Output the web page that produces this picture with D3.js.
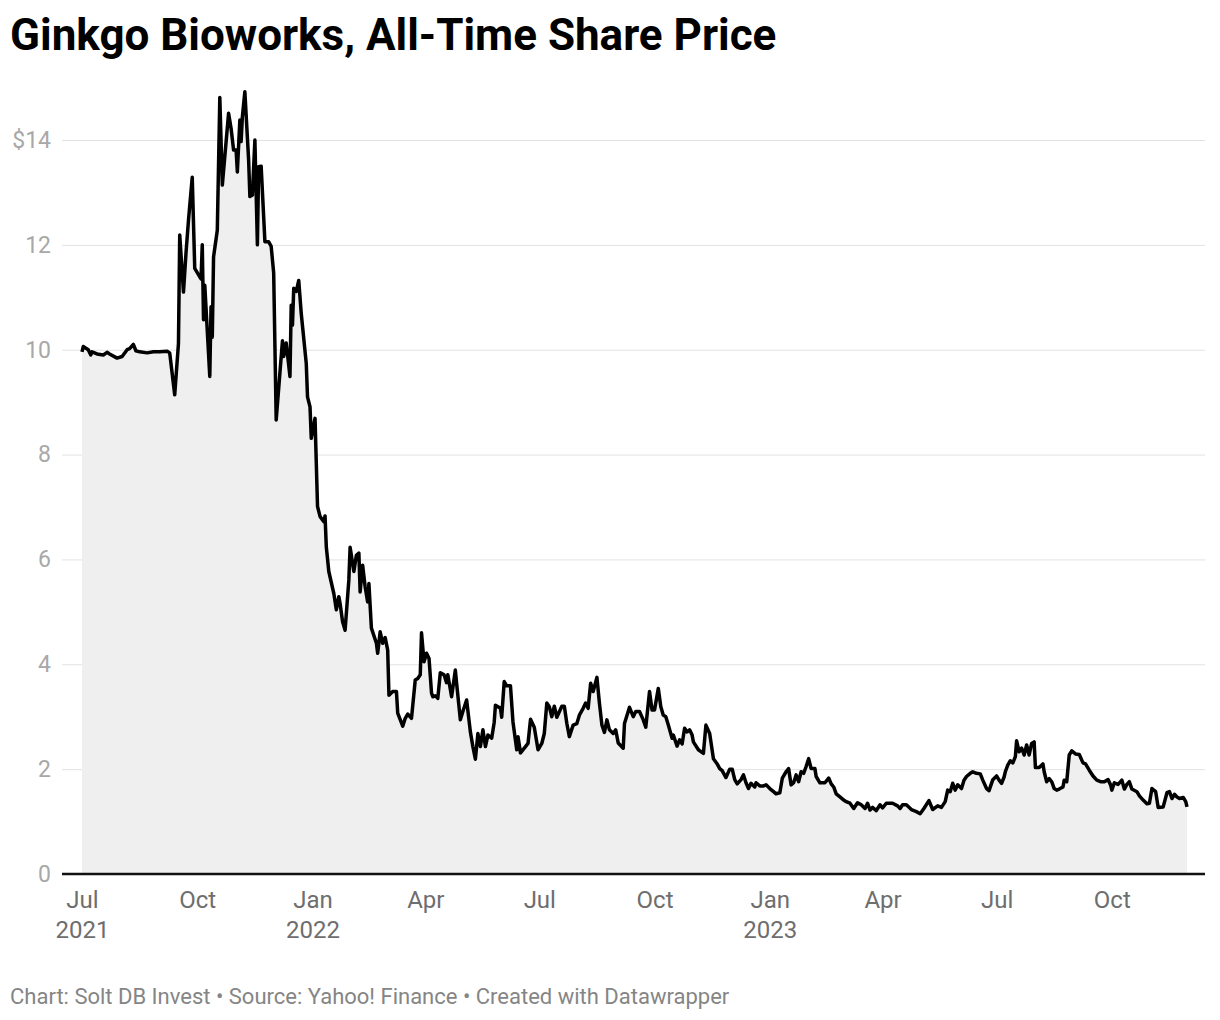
<!DOCTYPE html>
<html><head><meta charset="utf-8">
<script src="https://cdn.jsdelivr.net/npm/d3@7"></script>
<style>
body{margin:0;background:#fff;}
svg{display:block;font-family:Roboto,"Noto Sans",sans-serif;}
</style></head><body>
<svg id="c" width="1220" height="1020"></svg>
<script>
const titleText = "Ginkgo Bioworks, All-Time Share Price";
const footerText = "Chart: Solt DB Invest \u2022 Source: Yahoo! Finance \u2022 Created with Datawrapper";
const yTicks = [0, 2, 4, 6, 8, 10, 12, 14];
const xTickDates = ["2021-07-01","2021-10-01","2022-01-01","2022-04-01","2022-07-01","2022-10-01","2023-01-01","2023-04-01","2023-07-01","2023-10-01"];
const xTickLabels = [["Jul","2021"],["Oct"],["Jan","2022"],["Apr"],["Jul"],["Oct"],["Jan","2023"],["Apr"],["Jul"],["Oct"]];

const dates = [
"2021-07-01","2021-07-02","2021-07-06","2021-07-08","2021-07-09","2021-07-13","2021-07-18","2021-07-21","2021-07-23","2021-07-29",
"2021-08-02","2021-08-06","2021-08-08","2021-08-11","2021-08-13","2021-08-16","2021-08-22","2021-08-27","2021-09-01","2021-09-07",
"2021-09-09","2021-09-13","2021-09-16","2021-09-17","2021-09-20","2021-09-22","2021-09-24","2021-09-27","2021-09-29","2021-10-03",
"2021-10-04","2021-10-05","2021-10-06","2021-10-07","2021-10-11","2021-10-12","2021-10-13","2021-10-14","2021-10-17","2021-10-19",
"2021-10-21","2021-10-26","2021-10-28","2021-10-30","2021-11-01","2021-11-02","2021-11-04","2021-11-05","2021-11-06","2021-11-08",
"2021-11-11","2021-11-12","2021-11-14","2021-11-16","2021-11-18","2021-11-19","2021-11-21","2021-11-24","2021-11-27","2021-11-29",
"2021-12-01","2021-12-03","2021-12-08","2021-12-09","2021-12-11","2021-12-14","2021-12-15","2021-12-16","2021-12-17","2021-12-19",
"2021-12-21","2021-12-23","2021-12-27","2021-12-28","2021-12-30","2021-12-31","2022-01-03","2022-01-05","2022-01-07","2022-01-10",
"2022-01-11","2022-01-12","2022-01-14","2022-01-18","2022-01-20","2022-01-22","2022-01-23","2022-01-25","2022-01-27","2022-01-30",
"2022-01-31","2022-02-03","2022-02-05","2022-02-07","2022-02-08","2022-02-10","2022-02-12","2022-02-14","2022-02-15","2022-02-17",
"2022-02-21","2022-02-22","2022-02-24","2022-02-26","2022-02-28","2022-03-02","2022-03-03","2022-03-06","2022-03-09","2022-03-10",
"2022-03-14","2022-03-16","2022-03-18","2022-03-21","2022-03-24","2022-03-26","2022-03-28","2022-03-29","2022-03-31","2022-04-02",
"2022-04-04","2022-04-06","2022-04-07","2022-04-09","2022-04-11","2022-04-13","2022-04-16","2022-04-18","2022-04-19","2022-04-22",
"2022-04-25","2022-04-26","2022-04-29","2022-05-01","2022-05-04","2022-05-07","2022-05-09","2022-05-11","2022-05-13","2022-05-15",
"2022-05-17","2022-05-19","2022-05-21","2022-05-24","2022-05-26","2022-05-27","2022-05-31","2022-06-01","2022-06-03","2022-06-05",
"2022-06-08","2022-06-10","2022-06-13","2022-06-14","2022-06-16","2022-06-20","2022-06-22","2022-06-24","2022-06-27","2022-06-30",
"2022-07-03","2022-07-05","2022-07-07","2022-07-09","2022-07-11","2022-07-13","2022-07-15","2022-07-19","2022-07-21","2022-07-23",
"2022-07-25","2022-07-28","2022-07-31","2022-08-02","2022-08-05","2022-08-07","2022-08-09","2022-08-11","2022-08-13","2022-08-16",
"2022-08-18","2022-08-20","2022-08-22","2022-08-24","2022-08-26","2022-08-29","2022-08-31","2022-09-02","2022-09-06","2022-09-07",
"2022-09-11","2022-09-14","2022-09-16","2022-09-19","2022-09-22","2022-09-24","2022-09-27","2022-09-29","2022-10-01","2022-10-04",
"2022-10-06","2022-10-08","2022-10-10","2022-10-12","2022-10-15","2022-10-16","2022-10-19","2022-10-21","2022-10-23","2022-10-25",
"2022-10-27","2022-10-29","2022-10-31","2022-11-01","2022-11-05","2022-11-09","2022-11-11","2022-11-14","2022-11-17","2022-11-20",
"2022-11-22","2022-11-24","2022-11-27","2022-11-30","2022-12-02","2022-12-04","2022-12-06","2022-12-09","2022-12-11","2022-12-13",
"2022-12-15","2022-12-17","2022-12-20","2022-12-21","2022-12-24","2022-12-27","2022-12-29","2023-01-01","2023-01-04","2023-01-06",
"2023-01-09","2023-01-11","2023-01-14","2023-01-16","2023-01-18","2023-01-20","2023-01-22","2023-01-24","2023-01-26","2023-01-28",
"2023-01-30","2023-02-01","2023-02-03","2023-02-06","2023-02-07","2023-02-10","2023-02-14","2023-02-17","2023-02-19","2023-02-21",
"2023-02-23","2023-02-26","2023-03-01","2023-03-03","2023-03-06","2023-03-09","2023-03-12","2023-03-15","2023-03-18","2023-03-20",
"2023-03-22","2023-03-24","2023-03-27","2023-03-30","2023-04-01","2023-04-04","2023-04-07","2023-04-09","2023-04-13","2023-04-15",
"2023-04-17","2023-04-20","2023-04-24","2023-04-28","2023-05-01","2023-05-04","2023-05-08","2023-05-11","2023-05-15","2023-05-18",
"2023-05-21","2023-05-23","2023-05-25","2023-05-27","2023-05-29","2023-05-31","2023-06-03","2023-06-05","2023-06-07","2023-06-10",
"2023-06-12","2023-06-15","2023-06-18","2023-06-20","2023-06-23","2023-06-25","2023-06-28","2023-07-01","2023-07-03","2023-07-05",
"2023-07-07","2023-07-08","2023-07-10","2023-07-12","2023-07-14","2023-07-16","2023-07-17","2023-07-19","2023-07-21","2023-07-23",
"2023-07-25","2023-07-27","2023-07-29","2023-07-31","2023-08-01","2023-08-04","2023-08-07","2023-08-08","2023-08-10","2023-08-12",
"2023-08-14","2023-08-16","2023-08-18","2023-08-20","2023-08-23","2023-08-24","2023-08-26","2023-08-28","2023-08-30","2023-09-02",
"2023-09-05","2023-09-08","2023-09-10","2023-09-13","2023-09-16","2023-09-19","2023-09-22","2023-09-25","2023-09-28","2023-09-30",
"2023-10-01","2023-10-03","2023-10-06","2023-10-09","2023-10-11","2023-10-13","2023-10-15","2023-10-17","2023-10-21","2023-10-23",
"2023-10-26","2023-10-29","2023-10-31","2023-11-02","2023-11-05","2023-11-07","2023-11-11","2023-11-14","2023-11-16","2023-11-18",
"2023-11-20","2023-11-22","2023-11-24","2023-11-27","2023-11-29","2023-11-30"
];
const prices = [
9.96,10.06,10.0,9.9,9.96,9.92,9.9,9.95,9.92,9.84,
9.87,10.0,10.02,10.1,9.98,9.96,9.94,9.96,9.96,9.97,
9.94,9.14,10.12,12.19,11.1,11.84,12.47,13.29,11.55,11.39,
11.35,12.0,10.57,11.23,9.49,10.82,10.24,11.77,12.28,14.81,
13.14,14.51,14.22,13.81,13.81,13.39,14.38,13.97,14.44,14.92,
13.62,12.92,12.95,14.0,12.0,13.49,13.5,12.06,12.06,11.97,
11.46,8.66,10.17,9.87,10.13,9.49,10.85,10.47,11.17,11.11,
11.32,10.69,9.74,9.1,8.91,8.31,8.69,7.01,6.82,6.72,
6.83,6.24,5.77,5.35,5.04,5.29,5.16,4.81,4.65,5.61,
6.23,5.77,6.08,6.12,5.38,5.89,5.48,5.19,5.54,4.69,
4.4,4.21,4.62,4.4,4.51,4.27,3.41,3.48,3.48,3.07,
2.82,2.97,3.05,2.97,3.7,3.73,3.8,4.6,4.05,4.21,
4.11,3.45,3.38,3.4,3.35,3.84,3.8,3.65,3.8,3.38,
3.89,3.64,2.94,3.1,3.32,2.71,2.43,2.19,2.68,2.43,
2.75,2.43,2.65,2.59,2.89,3.22,3.16,2.99,3.67,3.59,
3.59,2.9,2.37,2.62,2.31,2.43,2.49,2.95,2.8,2.37,
2.49,2.68,3.26,3.19,3.0,3.2,2.99,3.2,3.2,2.87,
2.62,2.84,2.87,3.03,3.16,3.26,3.16,3.64,3.48,3.75,
3.26,2.84,2.7,2.94,2.75,2.68,2.75,2.5,2.4,2.87,
3.18,3.0,3.1,3.1,2.94,2.8,3.48,3.13,3.13,3.54,
3.19,3.03,3.0,2.84,2.59,2.65,2.44,2.56,2.48,2.78,
2.71,2.75,2.65,2.52,2.37,2.3,2.84,2.68,2.2,2.1,
2.01,1.97,1.84,2.0,2.0,1.8,1.72,1.8,1.89,1.74,
1.63,1.73,1.66,1.74,1.68,1.68,1.7,1.63,1.57,1.53,
1.55,1.83,1.95,2.01,1.7,1.74,1.89,1.76,1.95,1.92,
2.05,2.2,2.01,2.01,1.86,1.74,1.74,1.83,1.72,1.66,
1.53,1.47,1.41,1.38,1.35,1.25,1.36,1.32,1.25,1.35,
1.22,1.27,1.21,1.32,1.26,1.35,1.35,1.35,1.3,1.25,
1.32,1.32,1.23,1.19,1.15,1.25,1.4,1.23,1.3,1.27,
1.38,1.6,1.57,1.73,1.6,1.7,1.63,1.79,1.86,1.92,
1.95,1.92,1.91,1.79,1.63,1.59,1.8,1.87,1.79,1.73,
1.85,1.95,2.08,2.16,2.12,2.24,2.54,2.33,2.4,2.27,
2.46,2.27,2.49,2.52,2.03,2.03,2.1,1.95,1.76,1.82,
1.76,1.63,1.6,1.62,1.66,1.79,1.76,2.27,2.35,2.29,
2.28,2.12,2.1,1.98,1.87,1.79,1.76,1.76,1.8,1.7,
1.6,1.74,1.71,1.79,1.62,1.71,1.76,1.62,1.57,1.49,
1.41,1.34,1.35,1.63,1.57,1.27,1.28,1.55,1.57,1.44,
1.52,1.47,1.44,1.46,1.38,1.28
];

const parse = d3.utcParse("%Y-%m-%d");
const data = dates.map((d, i) => ({date: parse(d), value: prices[i]}));

const svg = d3.select("#c");

const x = d3.scaleUtc().domain(d3.extent(data, d => d.date)).range([82, 1187]);
const y = d3.scaleLinear().domain([0, 14]).range([874, 140]);
const gridX0 = 62, gridX1 = 1205;

// title
svg.append("text").attr("x", 10).attr("y", 50)
  .attr("font-size", 44).attr("font-weight", 700).attr("fill", "#000")
  .text(titleText);

// gridlines
const gy = svg.append("g").attr("transform", `translate(${gridX1},0)`).call(
  d3.axisRight(y).tickValues(yTicks.filter(v => v !== 0)).tickSize(-(gridX1 - gridX0)).tickFormat(""));
gy.select(".domain").remove();
gy.selectAll(".tick line").attr("stroke", "#e2e2e2").attr("stroke-width", 1);

// y labels
const gyl = svg.append("g").attr("transform", `translate(${gridX0},0)`).call(
  d3.axisLeft(y).tickValues(yTicks).tickSize(0).tickPadding(11).tickFormat(d => d === 14 ? "$" + d : String(d)));
gyl.select(".domain").remove();
gyl.selectAll("text").attr("font-size", 23).attr("fill", "#a8a8a8").attr("font-family", "Roboto");

// area
const area = d3.area().x(d => x(d.date)).y0(y(0)).y1(d => y(d.value));
svg.append("path").datum(data).attr("d", area).attr("fill", "#efefef");

// baseline
svg.append("line").attr("x1", gridX0).attr("x2", gridX1).attr("y1", y(0)).attr("y2", y(0))
  .attr("stroke", "#111").attr("stroke-width", 2.5);

// line
const line = d3.line().x(d => x(d.date)).y(d => y(d.value));
svg.append("path").datum(data).attr("d", line).attr("fill", "none")
  .attr("stroke", "#000").attr("stroke-width", 3.5).attr("stroke-linejoin", "round");

// x axis
const xtd = xTickDates.map(parse);
const gx = svg.append("g").attr("transform", `translate(0,${y(0)})`).call(
  d3.axisBottom(x).tickValues(xtd).tickSize(0).tickPadding(0).tickFormat(""));
gx.select(".domain").remove();
gx.selectAll(".tick").each(function(d, i) {
  const t = d3.select(this).select("text");
  t.text(null).attr("y", 0).attr("dy", null).attr("font-size", 24).attr("fill", "#6e6e6e").attr("font-family", "Roboto");
  xTickLabels[i].forEach((s, k) => {
    t.append("tspan").attr("x", 0).attr("y", 34 + k * 30).text(s);
  });
});

// footer
svg.append("text").attr("x", 10).attr("y", 1004).attr("font-size", 22).attr("fill", "#858585")
  .text(footerText);
</script>
</body></html>
